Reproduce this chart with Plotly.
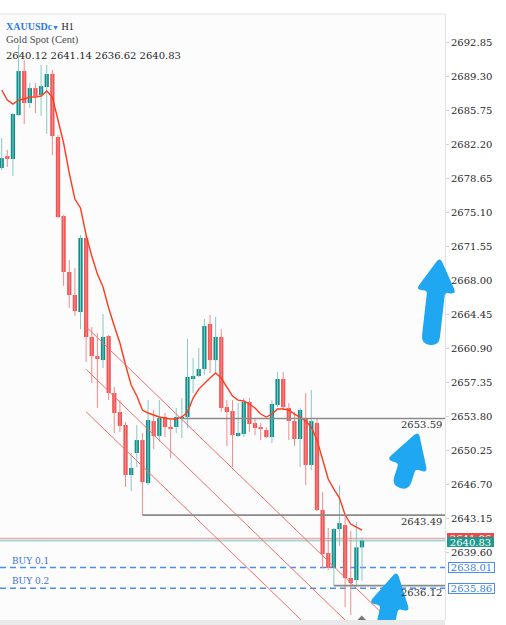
import plotly.graph_objects as go

# ---------------- data ----------------
symbol = "XAUUSDc"
timeframe = "H1"
description = "Gold Spot (Cent)"

opens = [2679.76, 2681.01, 2680.70, 2685.29, 2689.89, 2686.55, 2688.11, 2687.38, 2688.22, 2689.58,
         2683.00, 2674.74, 2668.89, 2666.49, 2664.71, 2672.44, 2662.10, 2660.11, 2659.69, 2662.20,
         2656.25, 2654.26, 2652.90, 2647.68, 2649.98, 2651.33, 2646.84, 2653.32, 2651.75, 2653.74,
         2652.69, 2652.69, 2653.53, 2653.74, 2657.71, 2658.02, 2658.75, 2663.46, 2659.69, 2662.10,
         2654.78, 2654.36, 2651.75, 2651.96, 2655.31, 2653.11, 2652.69, 2652.38, 2651.65, 2654.99,
         2657.71, 2654.68, 2653.32, 2651.44, 2653.53, 2648.72, 2653.11, 2644.02, 2639.53, 2637.96,
         2642.03, 2642.45, 2636.92, 2636.71, 2640.12]
highs = [2682.89, 2681.64, 2685.50, 2692.61, 2691.04, 2688.64, 2688.64, 2690.52, 2690.52, 2690.00,
         2683.20, 2674.85, 2670.14, 2669.31, 2672.75, 2672.75, 2663.14, 2662.52, 2664.50, 2662.31,
         2656.87, 2655.51, 2653.22, 2649.98, 2652.90, 2652.07, 2655.51, 2654.47, 2655.51, 2654.16,
         2653.42, 2654.68, 2655.72, 2661.89, 2659.90, 2660.95, 2663.98, 2664.40, 2664.19, 2662.93,
         2655.51, 2655.51, 2655.20, 2655.72, 2655.72, 2653.63, 2653.11, 2652.69, 2655.51, 2658.44,
         2658.44, 2655.20, 2654.26, 2654.68, 2656.25, 2656.56, 2653.63, 2645.90, 2642.14, 2642.14,
         2646.63, 2643.39, 2641.83, 2642.77, 2641.14]
lows = [2679.55, 2679.86, 2678.92, 2685.19, 2684.35, 2686.03, 2685.50, 2685.19, 2683.31, 2681.11,
        2674.53, 2667.43, 2665.13, 2664.29, 2662.93, 2659.49, 2657.29, 2654.68, 2658.86, 2655.51,
        2652.07, 2652.17, 2646.42, 2646.01, 2648.51, 2643.49, 2646.63, 2650.39, 2651.13, 2651.65,
        2649.45, 2652.07, 2651.54, 2652.59, 2656.25, 2657.92, 2658.13, 2658.34, 2658.44, 2654.26,
        2650.71, 2648.51, 2651.65, 2651.65, 2652.17, 2651.86, 2651.33, 2651.54, 2651.02, 2654.78,
        2654.47, 2651.33, 2650.71, 2648.51, 2646.63, 2648.20, 2643.92, 2637.96, 2637.75, 2636.12,
        2640.26, 2633.89, 2633.05, 2635.97, 2636.62]
closes = [2680.80, 2680.70, 2685.40, 2689.89, 2686.55, 2688.11, 2687.28, 2688.32, 2689.58, 2683.10,
          2674.64, 2668.89, 2666.49, 2664.81, 2672.44, 2662.10, 2660.11, 2659.80, 2662.10, 2656.25,
          2654.16, 2652.80, 2647.68, 2648.41, 2651.33, 2646.95, 2653.42, 2651.75, 2653.63, 2652.69,
          2652.59, 2653.74, 2653.74, 2657.92, 2658.02, 2658.75, 2663.25, 2659.69, 2662.10, 2654.68,
          2654.26, 2651.86, 2652.07, 2655.31, 2653.01, 2652.59, 2652.48, 2651.65, 2655.10, 2657.71,
          2654.78, 2653.32, 2651.44, 2654.47, 2648.72, 2653.32, 2644.02, 2639.42, 2637.96, 2642.03,
          2642.66, 2636.92, 2636.39, 2640.12, 2640.83]
ma_values = [2687.91, 2686.86, 2686.44, 2686.86, 2686.97, 2687.17, 2687.17, 2687.28, 2687.80, 2687.17,
             2684.77, 2682.37, 2679.23, 2676.52, 2675.58, 2672.75, 2670.56, 2668.68, 2667.32, 2665.13,
             2663.25, 2661.47, 2659.17, 2657.08, 2655.93, 2654.47, 2654.16, 2653.95, 2653.74, 2653.63,
             2653.53, 2653.53, 2653.74, 2654.26, 2655.72, 2656.66, 2657.29, 2657.81, 2658.34, 2657.81,
             2656.87, 2655.93, 2655.51, 2655.41, 2655.10, 2654.68, 2654.05, 2653.74, 2654.05, 2654.57,
             2654.57, 2654.47, 2654.05, 2653.74, 2653.32, 2652.69, 2651.33, 2649.25, 2647.26, 2646.21,
             2645.27, 2643.50, 2642.56, 2642.24, 2641.93]

level_prices = [2653.59, 2643.49, 2636.12]
level_start_idx = [32, 25, 59]

channel_start_idx = 15
channel_end_idx = 80
channel_start_prices = [2663.17, 2658.72, 2654.29]
channel_end_prices = [2626.15, 2621.70, 2617.27]

bid_price = 2640.83
ask_price = 2641.06
buy_prices = [2638.01, 2635.86]
buy_labels = ["BUY 0.1", "BUY 0.2"]

tick_labels = ["2692.85", "2689.30", "2685.75", "2682.20", "2678.65", "2675.10", "2671.55",
               "2668.00", "2664.45", "2660.90", "2657.35", "2653.80", "2650.25", "2646.70",
               "2643.15", "2639.60"]

# ---------------- layout constants ----------------
W, H = 506, 625
PL, PT, PR, PB = 0, 14, 445, 620          # plot area in pixels
PW, PH = PR - PL, PB - PT
X_RANGE = [-0.30, 78.74]
Y_RANGE = [2632.53, 2695.85]

BULL = "#0f8f8b"
BEAR = "#f15656"
BULL_WICK = "#86c9c6"
BEAR_WICK = "#f28c8c"
SERIF = "DejaVu Serif"
SERIF2 = "Liberation Serif"
ARROW = "#1fa8f1"


def paper(px, py):
    return ((px - PL) / PW, (PB - py) / PH)


n = len(closes)
idx = list(range(n))

fig = go.Figure()

# wicks
for bull, col in ((True, BULL_WICK), (False, BEAR_WICK)):
    wx, wy = [], []
    for i in idx:
        if (closes[i] >= opens[i]) == bull:
            wx += [i, i, None]
            wy += [lows[i], highs[i], None]
    fig.add_trace(go.Scatter(x=wx, y=wy, mode="lines", line=dict(color=col, width=1),
                             hoverinfo="skip", showlegend=False))

# bodies
MIN_BODY = 0.12
fig.add_trace(go.Bar(
    x=idx,
    base=[min(o, c) for o, c in zip(opens, closes)],
    y=[max(abs(c - o), MIN_BODY) for o, c in zip(opens, closes)],
    width=0.76,
    marker=dict(color=[BULL if c >= o else BEAR for o, c in zip(opens, closes)], line=dict(width=0)),
    hoverinfo="skip", showlegend=False))

# moving average
fig.add_trace(go.Scatter(x=idx, y=ma_values, mode="lines",
                         line=dict(color="#ff3b1d", width=1.4), hoverinfo="skip", showlegend=False))

# channel lines
for p0, p1 in zip(channel_start_prices, channel_end_prices):
    fig.add_trace(go.Scatter(x=[channel_start_idx, channel_end_idx], y=[p0, p1], mode="lines",
                             line=dict(color="#f26d6d", width=1), hoverinfo="skip", showlegend=False))

# horizontal levels
for p, s in zip(level_prices, level_start_idx):
    fig.add_trace(go.Scatter(x=[s, X_RANGE[1]], y=[p, p], mode="lines",
                             line=dict(color="#8a8a8a", width=1.6), hoverinfo="skip", showlegend=False))

shapes = []
# ask / bid lines
shapes.append(dict(type="line", xref="paper", yref="y", x0=0, x1=1, y0=ask_price, y1=ask_price,
                   line=dict(color="#f6a8a8", width=1.3), layer="below"))
shapes.append(dict(type="line", xref="paper", yref="y", x0=0, x1=1, y0=bid_price, y1=bid_price,
                   line=dict(color="#a3d8d4", width=2), layer="below"))
# buy order lines
for p in buy_prices:
    shapes.append(dict(type="line", xref="paper", yref="y", x0=0, x1=1, y0=p, y1=p,
                       line=dict(color="#4a8ff0", width=1.5, dash="6px,4px"), layer="below"))
# top border
shapes.append(dict(type="line", xref="paper", yref="paper", x0=0, x1=1, y0=1, y1=1,
                   line=dict(color="#e2e2e2", width=1)))


def rounded_path(pts, radii):
    m = len(pts)
    segs = []
    for k in range(m):
        vx, vy = pts[k]
        px_, py_ = pts[k - 1]
        nx_, ny_ = pts[(k + 1) % m]
        r = radii[k]
        dp = ((px_ - vx) ** 2 + (py_ - vy) ** 2) ** 0.5
        dn = ((nx_ - vx) ** 2 + (ny_ - vy) ** 2) ** 0.5
        ra = min(r, dp / 2)
        rb = min(r, dn / 2)
        a = (vx + (px_ - vx) / dp * ra, vy + (py_ - vy) / dp * ra)
        b = (vx + (nx_ - vx) / dn * rb, vy + (ny_ - vy) / dn * rb)
        segs.append((a, (vx, vy), b))

    def P(pt):
        x, y = paper(*pt)
        return f"{x:.5f},{y:.5f}"
    s = "M " + P(segs[0][0])
    for k, (a, v, b) in enumerate(segs):
        if k > 0:
            s += " L " + P(a)
        s += " Q " + P(v) + " " + P(b)
    s += " Z"
    return s


def arrow(tip, tail, head_len, head_w, shaft_w):
    dx, dy = tip[0] - tail[0], tip[1] - tail[1]
    L = (dx * dx + dy * dy) ** 0.5
    ux, uy = dx / L, dy / L
    nx_, ny_ = -uy, ux
    bx, by = tip[0] - ux * head_len, tip[1] - uy * head_len
    pts = [
        tip,
        (bx + nx_ * head_w / 2, by + ny_ * head_w / 2),
        (bx + nx_ * shaft_w / 2, by + ny_ * shaft_w / 2),
        (tail[0] + nx_ * shaft_w / 2, tail[1] + ny_ * shaft_w / 2),
        (tail[0] - nx_ * shaft_w / 2, tail[1] - ny_ * shaft_w / 2),
        (bx - nx_ * shaft_w / 2, by - ny_ * shaft_w / 2),
        (bx - nx_ * head_w / 2, by - ny_ * head_w / 2),
    ]
    radii = [6, 6, 3, 9, 9, 3, 6]
    return dict(type="path", xref="paper", yref="paper", path=rounded_path(pts, radii),
                fillcolor=ARROW, line=dict(width=0), layer="above")


shapes.append(arrow((440, 257), (430, 345), 35, 41, 18))
shapes.append(arrow((418.5, 431), (400, 488), 37, 43, 18))
shapes.append(arrow((397, 571), (384, 632), 37, 42, 18))

# bottom time-axis band + current bar marker
shapes.append(dict(type="rect", xref="paper", yref="paper", x0=0, x1=1, y0=-(H - PB) / PH, y1=0,
                   fillcolor="#e9e9e9", line=dict(width=0), layer="above"))
tri = [paper(357.5, 620), paper(366, 620), paper(361.7, 615.5)]
shapes.append(dict(type="path", xref="paper", yref="paper",
                   path="M {:.5f},{:.5f} L {:.5f},{:.5f} L {:.5f},{:.5f} Z".format(*tri[0], *tri[1], *tri[2]),
                   fillcolor="#777777", line=dict(width=0), layer="above"))

annotations = []
x0, y0 = paper(4, 26.5)
annotations.append(dict(xref="paper", yref="paper", x=x0, y=y0, xanchor="left", yanchor="middle",
                        showarrow=False,
                        text=f"<b><span style='color:#2d7be6'>{symbol}</span></b>"
                             f"<span style='color:#2d7be6;font-size:7px'>▼</span> {timeframe}",
                        font=dict(family=SERIF2, size=10, color="#222222")))
x0, y0 = paper(4, 40)
annotations.append(dict(xref="paper", yref="paper", x=x0, y=y0, xanchor="left", yanchor="middle",
                        showarrow=False, text=description,
                        font=dict(family=SERIF2, size=10.5, color="#4a4a4a")))
x0, y0 = paper(4, 56)
annotations.append(dict(xref="paper", yref="paper", x=x0, y=y0, xanchor="left", yanchor="middle",
                        showarrow=False,
                        text=f"{opens[-1]:.2f} {highs[-1]:.2f} {lows[-1]:.2f} {closes[-1]:.2f}",
                        font=dict(family=SERIF, size=10, color="#1f1f1f")))

# level labels
for p in level_prices:
    annotations.append(dict(xref="paper", yref="y", x=paper(443.5, 0)[0], y=p, xanchor="right",
                            yanchor="top", showarrow=False, text=f"{p:.2f}", yshift=1,
                            font=dict(family=SERIF, size=10, color="#333333")))

# buy labels
for p, t in zip(buy_prices, buy_labels):
    annotations.append(dict(xref="paper", yref="y", x=paper(10, 0)[0], y=p, xanchor="left",
                            yanchor="bottom", showarrow=False, text=t, yshift=0,
                            font=dict(family=SERIF, size=9, color="#3a72cc")))
    annotations.append(dict(xref="paper", yref="y", x=paper(448, 0)[0], y=p, xanchor="left",
                            yanchor="middle", showarrow=False, text=f"{p:.2f}",
                            width=45, height=9, borderpad=0, borderwidth=1,
                            bordercolor="#4a8ff0", bgcolor="#ffffff",
                            font=dict(family=SERIF, size=10, color="#3a7fe0")))

# ask / bid boxes
annotations.append(dict(xref="paper", yref="y", x=paper(446.5, 0)[0], y=ask_price, xanchor="left",
                        yanchor="middle", showarrow=False, text=f"{ask_price:.2f}",
                        width=47, height=10, borderpad=0, borderwidth=0, bgcolor="#ec4a4a",
                        font=dict(family=SERIF, size=10, color="#ffffff")))
annotations.append(dict(xref="paper", yref="y", x=paper(446.5, 0)[0], y=bid_price, xanchor="left",
                        yanchor="middle", showarrow=False, text=f"{bid_price:.2f}", yshift=-1,
                        width=47, height=10, borderpad=0, borderwidth=0, bgcolor="#1e9a8e",
                        font=dict(family=SERIF, size=10, color="#ffffff")))

fig.update_layout(
    width=W, height=H,
    margin=dict(l=PL, r=W - PR, t=PT, b=H - PB, pad=0, autoexpand=False),
    paper_bgcolor="#ffffff", plot_bgcolor="#fcfcfc",
    showlegend=False, barmode="overlay", hovermode=False,
    shapes=shapes, annotations=annotations,
    xaxis=dict(range=X_RANGE, visible=False, fixedrange=True),
    yaxis=dict(range=Y_RANGE, side="right", showgrid=False, zeroline=False, automargin=False,
               tickmode="array", tickvals=[float(t) for t in tick_labels], ticktext=tick_labels,
               ticks="outside", ticklen=3, tickcolor="#d4d4d4", tickwidth=1,
               showline=True, linecolor="#e2e2e2", linewidth=1,
               tickfont=dict(family=SERIF, size=10, color="#2a2a2a"), fixedrange=True),
)

fig.write_html("out.html", config={"displayModeBar": False},
               post_script="document.body.style.margin='0';document.body.style.overflow='hidden';")
